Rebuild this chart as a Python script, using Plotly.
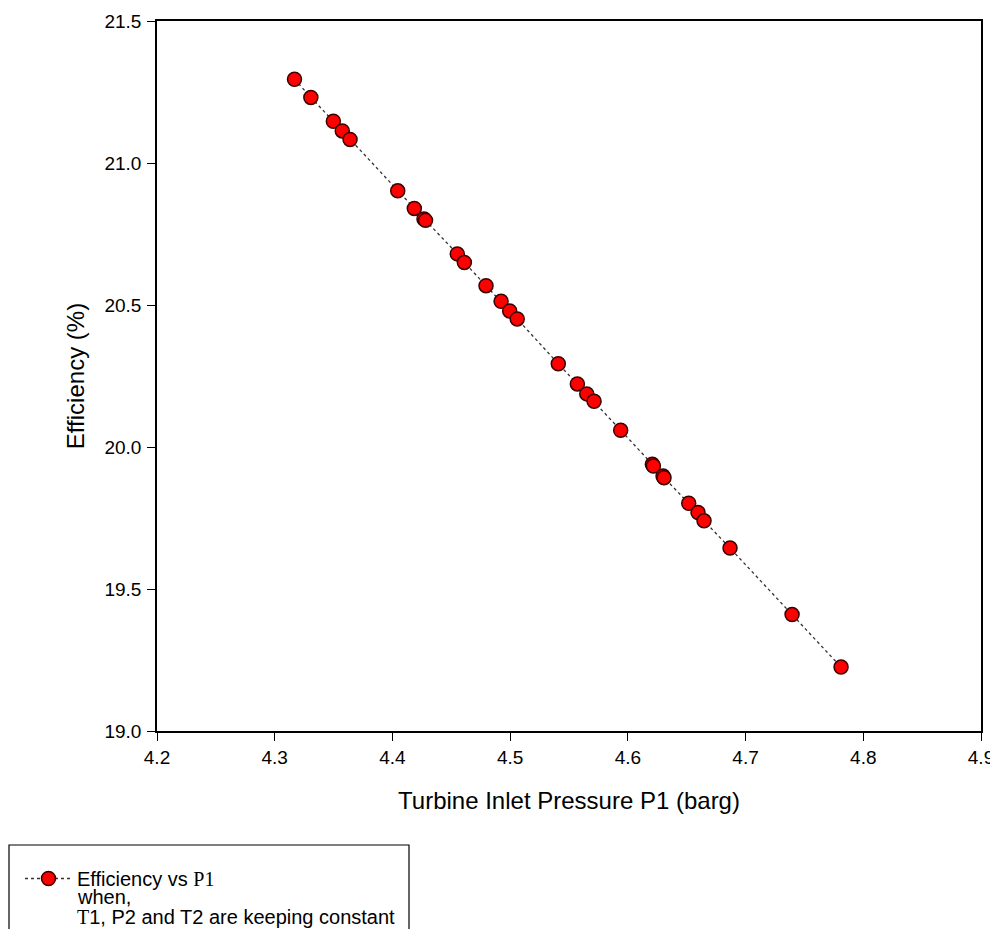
import plotly.graph_objects as go

pressure_p1 = [4.3168, 4.3307, 4.3498, 4.3574, 4.3640, 4.4045, 4.4186, 4.4268, 4.4281,
               4.4551, 4.4611, 4.4795, 4.4923, 4.4996, 4.5060, 4.5409, 4.5571, 4.5651,
               4.5713, 4.5939, 4.6208, 4.6217, 4.6299, 4.6307, 4.6517, 4.6596, 4.6647,
               4.6868, 4.7395, 4.7811]
efficiency = [21.295, 21.231, 21.147, 21.113, 21.083, 20.902, 20.840, 20.803, 20.798,
              20.680, 20.650, 20.568, 20.513, 20.479, 20.451, 20.293, 20.222, 20.187,
              20.161, 20.059, 19.939, 19.933, 19.898, 19.892, 19.802, 19.769, 19.740,
              19.644, 19.410, 19.225]

x_ticks = [4.2, 4.3, 4.4, 4.5, 4.6, 4.7, 4.8, 4.9]
y_ticks = [19.0, 19.5, 20.0, 20.5, 21.0, 21.5]

SANS = "Liberation Sans, Arial"
SERIF = "Liberation Serif, Times New Roman, serif"
legend_name = 'Efficiency vs <span style="font-family:' + SERIF + '">P1</span>'
legend_line2 = "when,"
legend_line3 = '<span style="font-family:' + SERIF + '">T</span>1, P2 and T2 are keeping constant'

# page body has an 8px margin; work in screen pixels and convert
OFF = 8
FIG_W, FIG_H = 998 - OFF, 937 - 2 * OFF
L, R, T, B = 157 - OFF, 981 - OFF, 21 - OFF, 731 - OFF
W, H = R - L, B - T


def px_x(p):
    return (p - OFF - L) / W


def px_y(p):
    return (B - (p - OFF)) / H


fig = go.Figure()
fig.add_trace(go.Scatter(
    x=pressure_p1, y=efficiency, mode="lines+markers", name=legend_name,
    line=dict(color="#333333", width=1.3, dash="dot"),
    marker=dict(size=14, color="#ff0000", line=dict(color="#3a0000", width=1.5)),
))

axis_common = dict(
    showline=True, linecolor="black", linewidth=1.5, mirror=True,
    ticks="outside", ticklen=8, tickwidth=1.2, tickcolor="black",
    showgrid=False, zeroline=False, automargin=False,
    tickfont=dict(family=SANS, size=19, color="black"),
)

fig.update_xaxes(range=[4.2, 4.9], tickvals=x_ticks, ticktext=[f"{v:.1f}" for v in x_ticks],
                 title=dict(text="Turbine Inlet Pressure P1 (barg)", standoff=26,
                            font=dict(family=SANS, size=24, color="black")),
                 **axis_common)
fig.update_yaxes(range=[19.0, 21.5], tickvals=y_ticks, ticktext=[f"{v:.1f}" for v in y_ticks],
                 ticklabelstandoff=2,
                 title=dict(text="Efficiency (%)", standoff=13,
                            font=dict(family=SANS, size=24, color="black")),
                 **axis_common)

# legend frame (extends below the page edge like the reference)
fig.add_shape(type="rect", xref="paper", yref="paper",
              x0=px_x(9), x1=px_x(409), y0=px_y(845), y1=px_y(960),
              line=dict(color="black", width=1.2), fillcolor="rgba(0,0,0,0)", layer="above")

for txt, yc in [(legend_line2, 897), (legend_line3, 917)]:
    fig.add_annotation(text=txt, xref="paper", yref="paper", x=px_x(75), y=px_y(yc),
                       xanchor="left", yanchor="middle", showarrow=False,
                       font=dict(family=SANS, size=20, color="black"))

fig.update_layout(
    width=FIG_W, height=FIG_H,
    margin=dict(l=L, r=FIG_W - R, t=T, b=FIG_H - B, autoexpand=False),
    plot_bgcolor="white", paper_bgcolor="white",
    showlegend=True,
    legend=dict(
        x=px_x(20), y=px_y(859), xanchor="left", yanchor="top",
        borderwidth=0, bgcolor="rgba(0,0,0,0)",
        font=dict(family=SANS, size=20, color="black"),
        valign="middle", itemwidth=47,
    ),
)

fig.write_html("out.html")
